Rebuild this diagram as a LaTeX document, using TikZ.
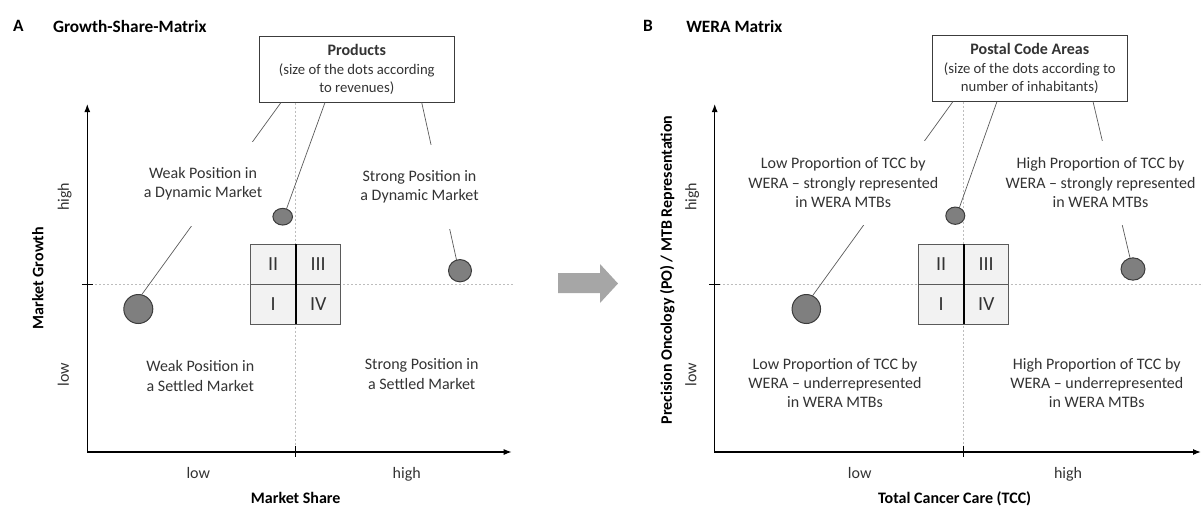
\documentclass[tikz,border=0pt]{standalone}
\usepackage{fontspec}
\setmainfont{Carlito}
\usetikzlibrary{arrows.meta,shapes.geometric,calc}
\definecolor{txt}{HTML}{333333}
\definecolor{lnc}{HTML}{5A5A5A}
\definecolor{dotfill}{HTML}{7F7F7F}
\definecolor{dotdraw}{HTML}{3C3C3C}
\definecolor{quadfill}{HTML}{F2F2F2}
\definecolor{guidec}{HTML}{BDBDBD}
\definecolor{arrowgray}{HTML}{A6A6A6}
\begin{document}
\begin{tikzpicture}[x=1pt,y=-1pt,
  every node/.style={inner sep=0pt, outer sep=0pt},
  paneltitle/.style={font=\fontsize{17.3}{20}\selectfont\bfseries, anchor=west},
  infobox/.style={draw=dotdraw, line width=1.1pt, fill=white, minimum width=195pt, minimum height=66pt, align=center, font=\fontsize{14.7}{18.4}\selectfont, text=txt},
  quadtext/.style={align=center, font=\fontsize{16}{19.2}\selectfont, text=txt},
  covertext/.style={quadtext, fill=white, minimum height=84pt, inner xsep=2pt},
  axistitle/.style={font=\fontsize{16}{19}\selectfont\bfseries},
  ticklabel/.style={font=\fontsize{16}{19}\selectfont, text=txt, text height=11pt, text depth=3.5pt},
  axisline/.style={line width=1.2pt, {Latex[length=8pt,width=6pt]}-{Latex[length=8pt,width=6pt]}},
  tickline/.style={line width=1.2pt},
  guide/.style={draw=guidec, line width=1pt, dash pattern=on 2pt off 2pt},
  connector/.style={draw=lnc, line width=0.7pt},
  dot/.style={ellipse, draw=dotdraw, fill=dotfill, line width=1pt},
  quadbox/.style={draw=lnc, fill=quadfill, line width=1pt, minimum width=90pt, minimum height=80pt},
  quadcell/.style={font=\fontsize{20}{24}\selectfont, text=txt},
]
\useasboundingbox (0,0) rectangle (1203,507);

% ---------------- Panel A ----------------
\coordinate (oA) at (87.3,452);
\coordinate (yA) at (87.3,104);
\coordinate (xA) at (511.7,452);
\coordinate (midA) at (295.7,284.3);
\coordinate (hA) at (513,284.3);

\node[paneltitle] (labA) at (13,26) {A};
\node[paneltitle] (titA) at (53,26) {Growth-Share-Matrix};

\node[infobox] (boxA) at (356.8,69.5) {{\bfseries\fontsize{16}{18.4}\selectfont Products}\\(size of the dots according\\to revenues)};

\draw[guide] (oA |- midA) -- (hA);
\draw[guide] (midA |- boxA.south) -- (midA |- oA);

\node[quadbox] (quadA) at (midA) {};
\draw[lnc, line width=1pt] (quadA.west) -- (quadA.east);
\draw[black, line width=1.6pt] (quadA.north) -- (quadA.south);
\node[quadcell] (qA2) at ($(quadA.center)+(-22.5,-20)$) {II};
\node[quadcell] (qA3) at ($(quadA.center)+(22.5,-20)$) {III};
\node[quadcell] (qA1) at ($(quadA.center)+(-22.5,20)$) {I};
\node[quadcell] (qA4) at ($(quadA.center)+(22.5,20)$) {IV};

\draw[axisline] (yA) -- (oA) -- (xA);
\draw[tickline] ($(oA |- midA)+(-5.5,0)$) -- ($(oA |- midA)+(5.5,0)$);
\draw[tickline] ($(midA |- oA)+(0,-6.5)$) -- ($(midA |- oA)+(0,5)$);

\node[dot, minimum width=19.6pt, minimum height=16.7pt] (dotA1) at (282.7,216.7) {};
\node[dot, minimum width=23pt, minimum height=22.3pt] (dotA2) at (460,270.7) {};
\node[dot, minimum width=29pt, minimum height=29pt] (dotA3) at (138.3,309) {};

\draw[connector] ($(boxA.south west)+(21.7,0)$) -- (dotA3.77);
\draw[connector] ($(boxA.south west)+(65.7,0)$) -- (dotA1.64);
\draw[connector] ($(boxA.south west)+(162.4,0)$) -- (dotA2.108);

\node[covertext] (wdA) at (203,184) {Weak Position in\\a Dynamic Market};
\node[covertext] (sdA) at (419.5,187) {Strong Position in\\a Dynamic Market};
\node[quadtext] (wsA) at (200.3,376) {Weak Position in\\a Settled Market};
\node[quadtext] (ssA) at (421.7,374) {Strong Position in\\a Settled Market};

\node[ticklabel] (xlA) at (198.3,475) {low};
\node[ticklabel] (xhA) at (406.7,475) {high};
\node[axistitle] (xtA) at (295.7,498.3) {Market Share};
\node[ticklabel, rotate=90] (ylA) at (65,374.3) {low};
\node[ticklabel, rotate=90] (yhA) at (65,196.7) {high};
\node[axistitle, rotate=90] (ytA) at (37.7,278) {Market Growth};

% ---------------- Arrow ----------------
\fill[arrowgray] (558,273) -- (600,273) -- (600,264) -- (618,283.5) -- (600,303) -- (600,293) -- (558,293) -- cycle;

% ---------------- Panel B ----------------
\coordinate (oB) at (714.7,452);
\coordinate (yB) at (714.7,104);
\coordinate (xB) at (1201,452);
\coordinate (midB) at (963.7,284.3);
\coordinate (hB) at (1203,284.3);

\node[paneltitle] (labB) at (643,26) {B};
\node[paneltitle] (titB) at (686.3,26) {WERA Matrix};

\node[infobox] (boxB) at (1029.8,68.5) {{\bfseries\fontsize{16}{18.4}\selectfont Postal Code Areas}\\(size of the dots according to\\number of inhabitants)};

\draw[guide] (oB |- midB) -- (hB);
\draw[guide] (midB |- boxB.south) -- (midB |- oB);

\node[quadbox] (quadB) at (midB) {};
\draw[lnc, line width=1pt] (quadB.west) -- (quadB.east);
\draw[black, line width=1.6pt] (quadB.north) -- (quadB.south);
\node[quadcell] (qB2) at ($(quadB.center)+(-22.5,-20)$) {II};
\node[quadcell] (qB3) at ($(quadB.center)+(22.5,-20)$) {III};
\node[quadcell] (qB1) at ($(quadB.center)+(-22.5,20)$) {I};
\node[quadcell] (qB4) at ($(quadB.center)+(22.5,20)$) {IV};

\draw[axisline] (yB) -- (oB) -- (xB);
\draw[tickline] ($(oB |- midB)+(-5.5,0)$) -- ($(oB |- midB)+(5.5,0)$);
\draw[tickline] ($(midB |- oB)+(0,-6.5)$) -- ($(midB |- oB)+(0,5)$);

\node[dot, minimum width=19pt, minimum height=17.3pt] (dotB1) at (955.3,215.7) {};
\node[dot, minimum width=24pt, minimum height=22.3pt] (dotB2) at (1133,269) {};
\node[dot, minimum width=28.5pt, minimum height=29pt] (dotB3) at (806.3,309) {};

\draw[connector] ($(boxB.south west)+(20.7,0)$) -- (dotB3.65);
\draw[connector] ($(boxB.south west)+(64.7,0)$) -- (dotB1.63);
\draw[connector] ($(boxB.south west)+(160.7,0)$) -- (dotB2.105);

\node[covertext] (lsB) at (843.3,182.5) {Low Proportion of TCC by\\WERA -- strongly represented\\in WERA MTBs};
\node[covertext] (hsB) at (1100.5,182.5) {High Proportion of TCC by\\WERA -- strongly represented\\in WERA MTBs};
\node[quadtext] (luB) at (835,382.7) {Low Proportion of TCC by\\WERA -- underrepresented\\in WERA MTBs};
\node[quadtext] (huB) at (1096.8,382.7) {High Proportion of TCC by\\WERA -- underrepresented\\in WERA MTBs};

\node[ticklabel] (xlB) at (859.7,475) {low};
\node[ticklabel] (xhB) at (1068,475) {high};
\node[axistitle] (xtB) at (954.7,498.3) {Total Cancer Care (TCC)};
\node[ticklabel, rotate=90] (ylB) at (692.5,374.3) {low};
\node[ticklabel, rotate=90] (yhB) at (692.5,196.7) {high};
\node[axistitle, rotate=90] (ytB) at (667.3,270) {Precision Oncology (PO) / MTB Representation};
\end{tikzpicture}
\end{document}
